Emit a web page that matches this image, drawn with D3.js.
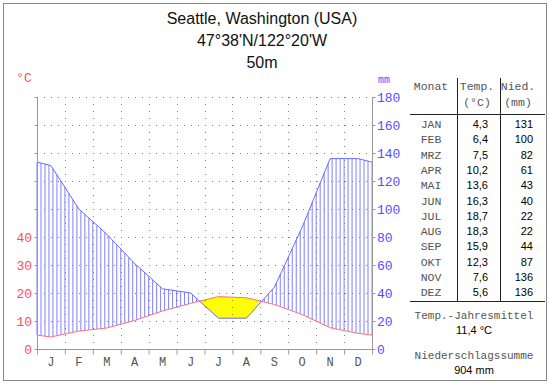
<!DOCTYPE html>
<html>
<head>
<meta charset="utf-8">
<script src="https://cdn.jsdelivr.net/npm/d3@7"></script>
<style>
  body { margin: 0; background: #fff; }
  .mono { font-family: "Liberation Mono", "DejaVu Sans Mono", monospace; }
  .sans { font-family: "Liberation Sans", Arial, sans-serif; }
</style>
</head>
<body>
<div id="chart"></div>
<script>
// --- data ---
const monthLetters = ["J", "F", "M", "A", "M", "J", "J", "A", "S", "O", "N", "D"];
const monthNames = ["JAN", "FEB", "MRZ", "APR", "MAI", "JUN", "JUL", "AUG", "SEP", "OKT", "NOV", "DEZ"];
const temperature = [4.3, 6.4, 7.5, 10.2, 13.6, 16.3, 18.7, 18.3, 15.9, 12.3, 7.6, 5.6];
const precipitation = [131, 100, 82, 61, 43, 40, 22, 22, 44, 87, 136, 136];
const tempTicks = [0, 10, 20, 30, 40];
const precipTicks = [0, 20, 40, 60, 80, 100, 120, 140, 160, 180];
const titleLines = ["Seattle, Washington (USA)", "47°38'N/122°20'W", "50m"];

const width = 550, height = 384;
const plot = { left: 37, right: 372, top: 97, bottom: 349 };

const svg = d3.select("#chart").append("svg")
    .attr("width", width)
    .attr("height", height);

// frame
svg.append("rect")
    .attr("x", 3.5).attr("y", 3.5)
    .attr("width", 543).attr("height", 377)
    .attr("fill", "none").attr("stroke", "#888");

// scales: x in month units 0..12, y in mm (temp * 2)
const x = d3.scaleLinear().domain([0, 12]).range([plot.left, plot.right]);
const y = d3.scaleLinear().domain([0, 180]).range([plot.bottom, plot.top]);
const yT = d3.scaleLinear().domain([0, 90]).range([plot.bottom, plot.top]);

// piecewise linear curves through month centres, edges = mean of Dec/Jan
const knots = [0, ...d3.range(12).map(i => i + 0.5), 12];
const wrap = arr => {
    const e = (arr[0] + arr[11]) / 2;
    return [e, ...arr, e];
};
const pCurve = d3.scaleLinear().domain(knots).range(wrap(precipitation));
const tCurve = d3.scaleLinear().domain(knots).range(wrap(temperature.map(t => t * 2)));

// --- dry period (yellow) ---
const samples = d3.range(0, 12.0001, 0.01);
svg.append("path")
    .datum(samples)
    .attr("fill", "#ffff00")
    .attr("d", d3.area()
        .x(d => x(d))
        .y0(d => y(pCurve(d)))
        .y1(d => y(Math.max(pCurve(d), tCurve(d)))));

// --- humid period (vertical hatching) ---
const hatch = d3.range(0, 12 * 7 + 1).map(i => i / 7);
svg.append("g").selectAll("line")
    .data(hatch.filter(d => pCurve(d) > tCurve(d)))
    .join("line")
    .attr("x1", d => x(d)).attr("x2", d => x(d))
    .attr("y1", d => y(pCurve(d)))
    .attr("y2", d => y(tCurve(d)))
    .attr("stroke", "#8080ff")
    .attr("stroke-width", 1);

// --- dotted grid ---
const grid = svg.append("g")
    .attr("stroke", "#808080")
    .attr("stroke-dasharray", "1,6");
grid.selectAll(".h")
    .data(precipTicks.filter(d => d > 0))
    .join("line")
    .attr("x1", plot.left).attr("x2", plot.right)
    .attr("y1", d => y(d) + 0.5).attr("y2", d => y(d) + 0.5);
grid.selectAll(".v")
    .data(d3.range(1, 12))
    .join("line")
    .attr("x1", d => Math.round(x(d)) + 0.5).attr("x2", d => Math.round(x(d)) + 0.5)
    .attr("y1", plot.top).attr("y2", plot.bottom);

// --- curves ---
svg.append("path")
    .datum(knots)
    .attr("fill", "none")
    .attr("stroke", "#6a6aff")
    .attr("d", d3.line().x(d => x(d)).y(d => y(pCurve(d))));
svg.append("path")
    .datum(knots)
    .attr("fill", "none")
    .attr("stroke", "#ff7070")
    .attr("d", d3.line().x(d => x(d)).y(d => y(tCurve(d))));

// --- axes ---
const axisColor = "#999";
const leftAxis = svg.append("g")
    .attr("transform", `translate(${plot.left + 0.5},0)`)
    .call(d3.axisLeft(y).tickValues(precipTicks).tickSize(3).tickFormat(""));
const rightAxis = svg.append("g")
    .attr("transform", `translate(${plot.right + 0.5},0)`)
    .call(d3.axisRight(y).tickValues(precipTicks).tickSize(3).tickFormat(""));
const bottomAxis = svg.append("g")
    .attr("transform", `translate(0,${plot.bottom + 0.5})`)
    .call(d3.axisBottom(x).tickValues(d3.range(0, 13)).tickSize(5).tickFormat(""));
[leftAxis, rightAxis, bottomAxis].forEach(a => {
    a.select(".domain").attr("stroke", axisColor);
    a.selectAll(".tick line").attr("stroke", axisColor);
});
leftAxis.select(".domain").attr("d", `M0,${plot.top}V${plot.bottom + 5}`);
rightAxis.select(".domain").attr("d", `M0,${plot.top}V${plot.bottom + 5}`);
bottomAxis.select(".domain").attr("d", `M${plot.left},0H${plot.right}`);

// temperature labels
svg.append("g").selectAll("text")
    .data(tempTicks)
    .join("text")
    .attr("class", "mono")
    .attr("x", 32)
    .attr("y", d => yT(d) + 4.5)
    .attr("text-anchor", "end")
    .attr("fill", "#ff5050")
    .style("font-size", "13px")
    .text(d => d);
svg.append("text")
    .attr("class", "mono")
    .attr("x", 24).attr("y", 82)
    .attr("text-anchor", "middle")
    .attr("fill", "#ff5050")
    .style("font-size", "13px")
    .text("°C");

// precipitation labels
svg.append("g").selectAll("text")
    .data(precipTicks)
    .join("text")
    .attr("class", "mono")
    .attr("x", 377)
    .attr("y", d => y(d) + 4.5)
    .attr("fill", "#5050ff")
    .style("font-size", "13px")
    .text(d => d);
svg.append("text")
    .attr("class", "mono")
    .attr("x", 378).attr("y", 83)
    .attr("fill", "#5050ff")
    .style("font-size", "10px")
    .text("mm");

// month letters
svg.append("g").selectAll("text")
    .data(monthLetters)
    .join("text")
    .attr("class", "mono")
    .attr("x", (d, i) => x(i + 0.5))
    .attr("y", 366)
    .attr("text-anchor", "middle")
    .attr("fill", "#555")
    .style("font-size", "12px")
    .text(d => d);

// --- title ---
svg.append("g").selectAll("text")
    .data(titleLines)
    .join("text")
    .attr("class", "sans")
    .attr("x", 262)
    .attr("y", (d, i) => 24 + i * 22)
    .attr("text-anchor", "middle")
    .attr("fill", "#111")
    .style("font-size", "16px")
    .text(d => d);

// --- table ---
const fmt = v => v.toFixed(1).replace(".", ",");
const table = svg.append("g");
const gridStroke = "#222";
table.append("line").attr("x1", 457.5).attr("x2", 457.5).attr("y1", 78).attr("y2", 301).attr("stroke", gridStroke);
table.append("line").attr("x1", 500.5).attr("x2", 500.5).attr("y1", 78).attr("y2", 301).attr("stroke", gridStroke);
table.append("line").attr("x1", 410).attr("x2", 545).attr("y1", 114.5).attr("y2", 114.5).attr("stroke", gridStroke);
table.append("line").attr("x1", 410).attr("x2", 545).attr("y1", 301.5).attr("y2", 301.5).attr("stroke", gridStroke);

const header = [
    { t: "Monat", x: 431, y: 90 },
    { t: "Temp.", x: 477, y: 90 },
    { t: "(°C)", x: 477, y: 106 },
    { t: "Nied.", x: 518, y: 90 },
    { t: "(mm)", x: 518, y: 106 }
];
table.selectAll(".hdr")
    .data(header)
    .join("text")
    .attr("class", "mono")
    .attr("x", d => d.x).attr("y", d => d.y)
    .attr("text-anchor", "middle")
    .attr("fill", "#555")
    .style("font-size", "11.5px")
    .text(d => d.t);

const rowY = i => 128 + i * 15.3;
table.selectAll(".mn")
    .data(monthNames)
    .join("text")
    .attr("class", "mono")
    .attr("x", 431).attr("y", (d, i) => rowY(i))
    .attr("text-anchor", "middle")
    .attr("fill", "#555")
    .style("font-size", "11.5px")
    .text(d => d);
table.selectAll(".tv")
    .data(temperature)
    .join("text")
    .attr("class", "sans")
    .attr("x", 488).attr("y", (d, i) => rowY(i))
    .attr("text-anchor", "end")
    .attr("fill", "#000")
    .style("font-size", "11px")
    .text(d => fmt(d));
table.selectAll(".pv")
    .data(precipitation)
    .join("text")
    .attr("class", "sans")
    .attr("x", 533).attr("y", (d, i) => rowY(i))
    .attr("text-anchor", "end")
    .attr("fill", "#000")
    .style("font-size", "11px")
    .text(d => d);

const meanT = d3.mean(temperature);
const sumP = d3.sum(precipitation);
const summary = [
    { t: "Temp.-Jahresmittel", y: 319, cls: "mono", c: "#555", s: "11px" },
    { t: fmt(meanT) + " °C", y: 334, cls: "sans", c: "#000", s: "11px" },
    { t: "Niederschlagssumme", y: 359, cls: "mono", c: "#555", s: "11px" },
    { t: sumP + " mm", y: 374, cls: "sans", c: "#000", s: "11px" }
];
table.selectAll(".sm")
    .data(summary)
    .join("text")
    .attr("class", d => d.cls)
    .attr("x", 474).attr("y", d => d.y)
    .attr("text-anchor", "middle")
    .attr("fill", d => d.c)
    .style("font-size", d => d.s)
    .text(d => d.t);
</script>
</body>
</html>
